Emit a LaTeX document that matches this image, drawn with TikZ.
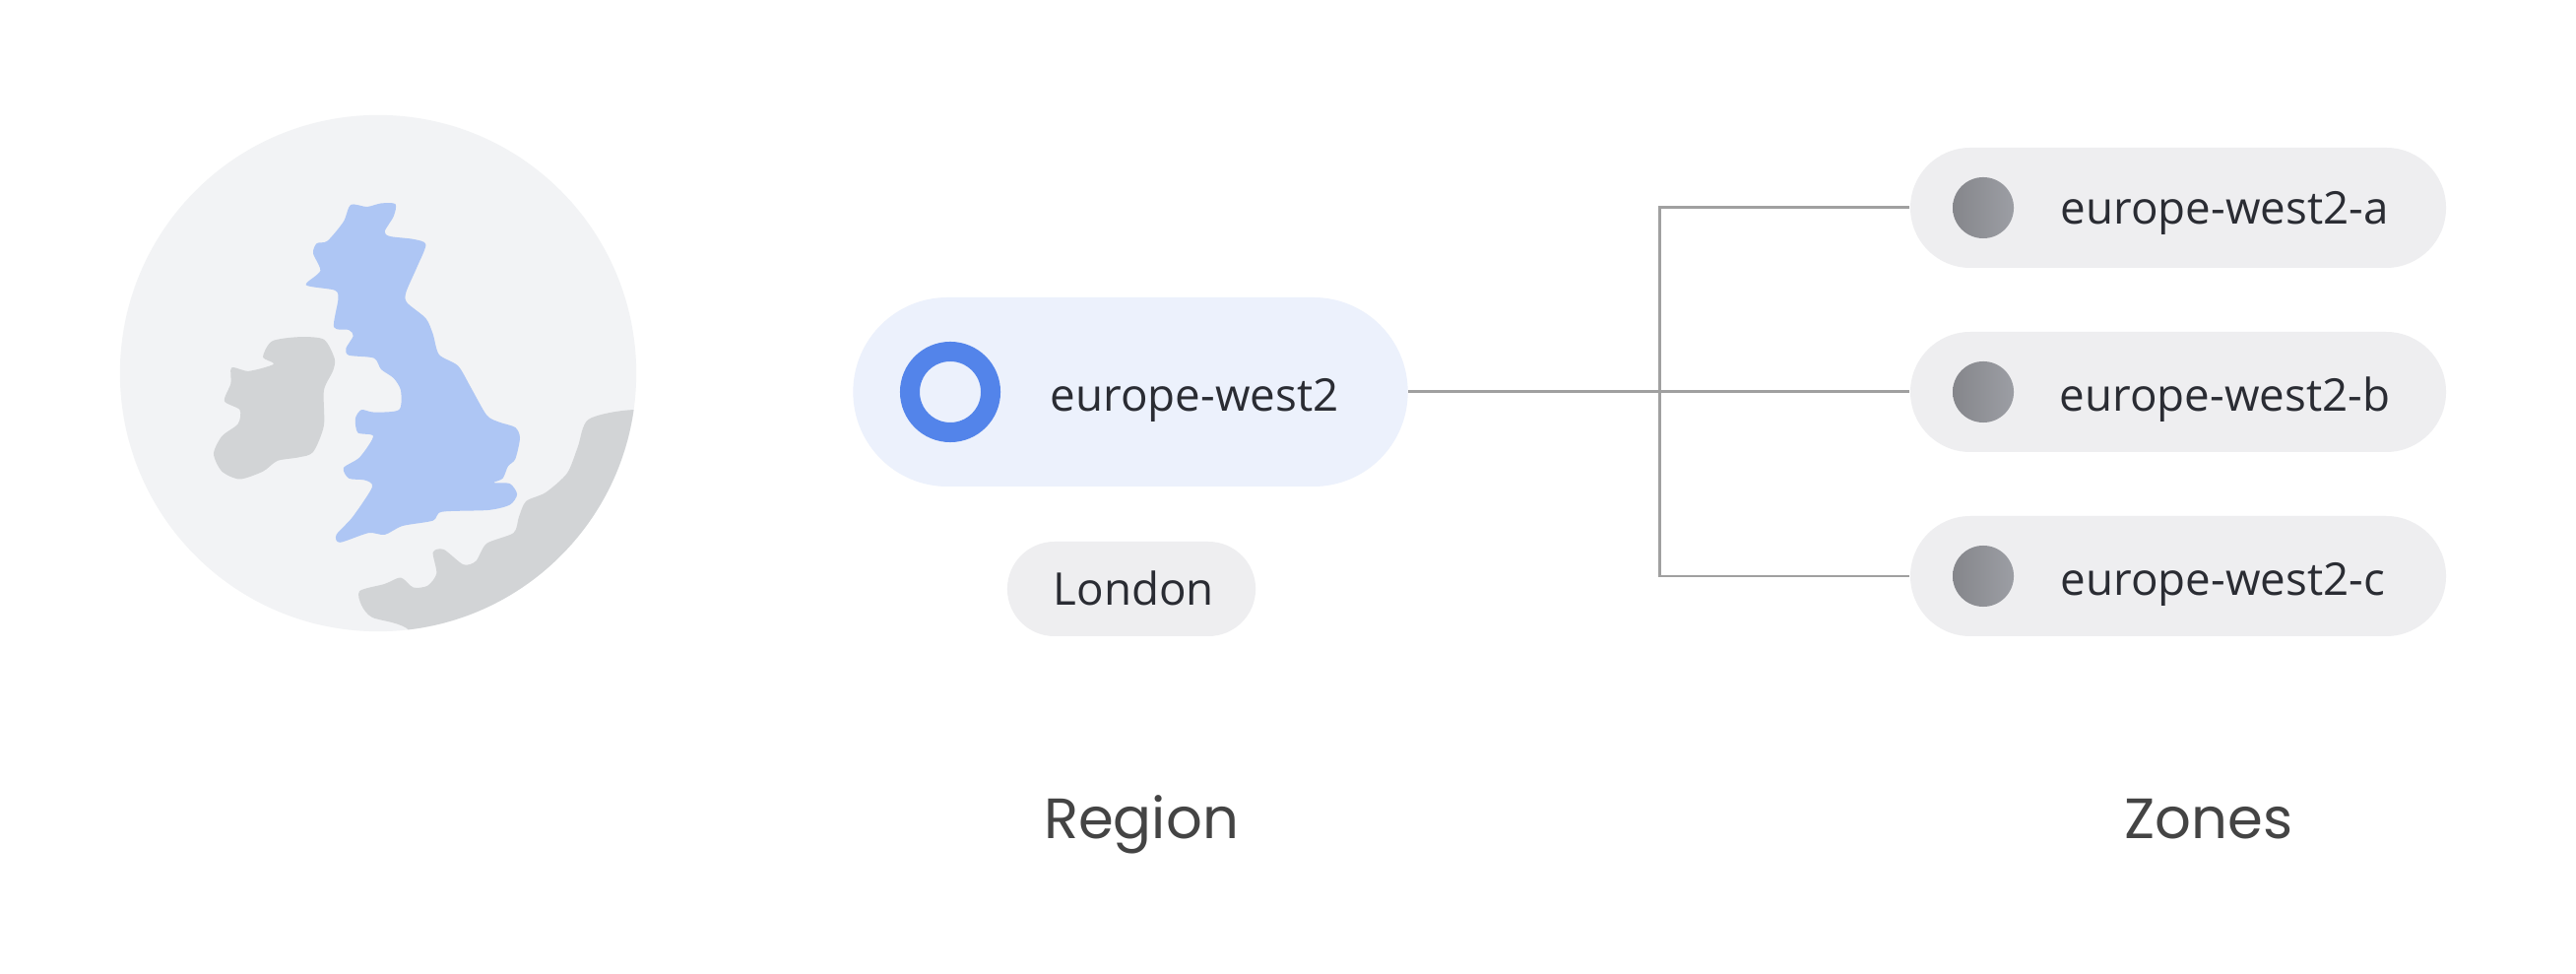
\documentclass[tikz,border=0pt]{standalone}
\usepackage{fontspec}
\setmainfont{Open Sans}
\newfontfamily\headfont{Poppins}
\usetikzlibrary{positioning}
\definecolor{globe}{HTML}{F2F3F5}
\definecolor{ukblue}{HTML}{AEC6F4}
\definecolor{landgrey}{HTML}{D2D4D6}
\definecolor{regionfill}{HTML}{ECF1FC}
\definecolor{ringblue}{HTML}{5384EA}
\definecolor{pillgrey}{HTML}{EEEEF0}
\definecolor{wire}{HTML}{A0A0A0}
\definecolor{inktext}{HTML}{2A2C33}
\definecolor{labeltext}{HTML}{444444}
\definecolor{dotleft}{HTML}{85868B}
\definecolor{dotright}{HTML}{9C9EA4}
\tikzset{
  x=0.01cm,y=-0.01cm,
  pill/.style={draw=none,minimum height=#1*0.01cm,rounded corners=#1*0.00499cm,inner sep=0pt},
  zonepill/.style={pill=122,fill=pillgrey,minimum width=544*0.01cm},
  dot/.style={circle,minimum size=0.62cm,inner sep=0pt,left color=dotleft,right color=dotright,draw=none},
  chip/.style={anchor=base west,inner sep=0pt,text=inktext,font=\fontsize{13pt}{15pt}\selectfont},
  heading/.style={anchor=base,inner sep=0pt,text=labeltext,font=\headfont\fontsize{16.4pt}{19pt}\selectfont},
  wireline/.style={draw=wire,line width=0.85pt},
  mapzone/.style={shift={(100,100)},x=0.003636cm,y=-0.003571cm}
}
\begin{document}
\begin{tikzpicture}
\useasboundingbox (0,0) rectangle (2616,989);
\fill[white] (0,0) rectangle (2616,989);

% globe
\node[circle,fill=globe,minimum size=5.24cm,inner sep=0pt] (globe) at (384,379) {};
\begin{scope}
\clip (384,379) circle [radius=2.62cm];
\begin{scope}[mapzone]
\fill[landgrey] plot[smooth cycle,tension=0.45] coordinates {
(1495,885)(1370,912)(1340,990)(1310,1065)(1250,1120)(1195,1145)(1175,1190)(1160,1235)(1085,1265)(1055,1315)(1020,1325)(965,1282)(935,1290)(945,1350)(920,1385)(880,1390)(845,1362)(800,1380)(730,1400)(735,1440)(765,1475)(860,1505)(1000,1620)(1700,1500)(1700,900)};
\end{scope}
\end{scope}
\begin{scope}[mapzone]
\fill[ukblue] plot[smooth cycle,tension=0.45] coordinates {
(705,302)(750,308)(790,298)(830,300)(825,335)(800,378)(815,392)(880,400)(915,415)(890,480)(860,550)(862,580)(915,625)(935,670)(952,728)(1005,760)(1040,820)(1085,900)(1120,920)(1165,935)(1178,965)(1165,1025)(1145,1045)(1130,1080)(1105,1092)(1150,1095)(1170,1125)(1150,1155)(1090,1170)(960,1175)(935,1200)(850,1215)(800,1240)(755,1235)(675,1262)(665,1240)(710,1190)(765,1105)(745,1085)(700,1080)(685,1050)(730,1020)(768,960)(725,950)(718,910)(735,885)(770,892)(840,885)(845,830)(825,795)(790,770)(770,738)(700,730)(692,710)(712,675)(700,658)(658,650)(670,570)(660,545)(580,530)(620,490)(600,440)(610,412)(640,405)(685,350)};
\fill[landgrey] plot[smooth cycle,tension=0.45] coordinates {
(485,690)(560,678)(630,685)(660,740)(655,775)(630,830)(630,930)(600,1005)(560,1020)(500,1030)(460,1060)(395,1082)(345,1060)(322,1010)(345,960)(390,925)(395,885)(352,860)(370,810)(372,765)(420,775)(490,755)(460,735)};
\end{scope}

% region
\node[pill=192,fill=regionfill,minimum width=5.63cm] (region) at (1148,398) {};
\node[circle,draw=ringblue,line width=0.2cm,minimum size=0.82cm,inner sep=0pt] (ring) at (965,398) {};
\node[chip] (regiontext) at (1066,418) {europe-west2};
\node[pill=96,fill=pillgrey,minimum width=2.52cm] (london) at (1149,598) {};
\node[chip] (londontext) at (1069,615) {London};

% zones
\node[zonepill] (zonea) at (2212,211) {};
\node[zonepill] (zoneb) at (2212,398) {};
\node[zonepill] (zonec) at (2212,585) {};
\node[dot] (dota) at (2014,211) {};
\node[dot] (dotb) at (2014,398) {};
\node[dot] (dotc) at (2014,585) {};
\node[chip] (texta) at (2092,228) {europe-west2-a};
\node[chip] (textb) at (2091,418) {europe-west2-b};
\node[chip] (textc) at (2092,605) {europe-west2-c};

% connectors
\coordinate (trunk) at (1685,398);
\draw[wireline] (region.east) -- (zoneb.west);
\draw[wireline] (zonea.west) -- (zonea.west -| trunk) -- (zonec.west -| trunk) -- (zonec.west);

% headings
\node[heading] (regionlabel) at (1159,851) {Region};
\node[heading] (zoneslabel) at (2243,851) {Zones};
\end{tikzpicture}
\end{document}
